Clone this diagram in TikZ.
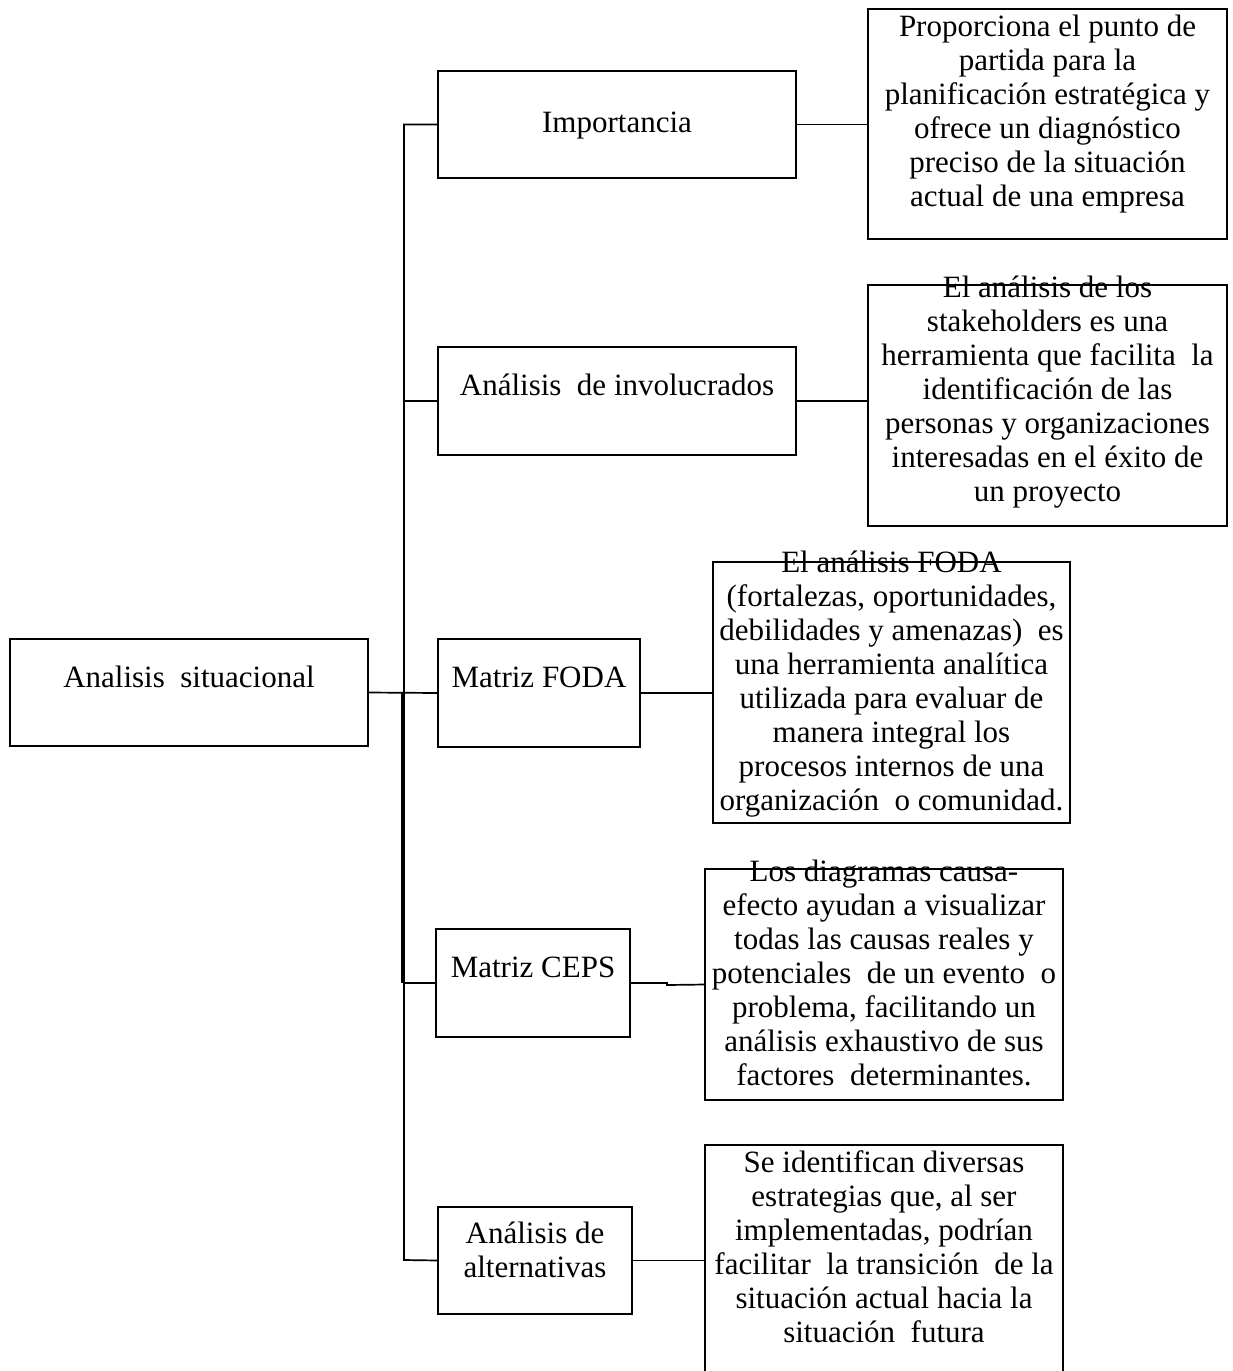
\documentclass[tikz,border=0pt]{standalone}
\usepackage{fontspec}
\setmainfont{Liberation Serif}
\begin{document}
\begin{tikzpicture}[x=0.5pt,y=-0.5pt,
  box/.style={draw, line width=0.85pt, inner sep=0pt, outer sep=0pt},
  wire/.style={line width=0.85pt},
  trunk/.style={line width=2pt},
  txt/.style={inner sep=0pt, outer sep=0pt, anchor=base, font=\fontsize{15.5}{17}\selectfont}]
\clip (0,0) rectangle (1232,1371);

% boxes
\node[box, minimum width=179pt, minimum height=53.5pt] (sit) at (189,692.5) {};
\node[box, minimum width=179pt, minimum height=53.5pt] (imp) at (617,124.5) {};
\node[box, minimum width=179.5pt, minimum height=115pt] (impD) at (1047.5,124) {};
\node[box, minimum width=179pt, minimum height=54pt] (inv) at (617,401) {};
\node[box, minimum width=179.5pt, minimum height=120.5pt] (invD) at (1047.5,405.5) {};
\node[box, minimum width=101pt, minimum height=54pt] (foda) at (539,693) {};
\node[box, minimum width=178.5pt, minimum height=130.5pt] (fodaD) at (891.5,692.5) {};
\node[box, minimum width=97pt, minimum height=54pt] (ceps) at (533,983) {};
\node[box, minimum width=179pt, minimum height=115.5pt] (cepsD) at (884,984.5) {};
\node[box, minimum width=97pt, minimum height=53.5pt] (alt) at (535,1260.5) {};
\node[box, minimum width=179pt, minimum height=157.5pt] (altD) at (884,1302.5) {};

% trunk of the tree
\coordinate (tTop) at (404,125);
\coordinate (tBot) at (404,1260);
\coordinate (thA) at (402.5,693);
\coordinate (thB) at (402.5,983);
\coordinate (cStep) at (667,983);

\draw[wire] (imp.west) -- (imp.west -| tTop) -- (tBot) -- (alt.west);
\draw[trunk] (thA) -- (thB);
\draw[wire] (sit.east) -- (foda.west);
\draw[wire] (inv.west) -- (inv.west -| tTop);
\draw[wire] (ceps.west) -- (ceps.west -| tTop);

% branches to the descriptions
\draw[wire] (imp.east) -- (impD.west |- imp.east);
\draw[wire] (inv.east) -- (invD.west |- inv.east);
\draw[wire] (foda.east) -- (fodaD.west |- foda.east);
\draw[wire] (ceps.east) -- (cStep) -- ++(0,2) -- (cepsD.west);
\draw[wire] (alt.east) -- (altD.west |- alt.east);

% labels
\node[txt] (sitL) at (189,687) {Analisis~ situacional};
\node[txt] (impL) at (617,132) {Importancia};
\node[txt] (invL) at (617,395) {Análisis~ de involucrados};
\node[txt] (fodaL) at (539,687) {Matriz FODA};
\node[txt] (cepsL) at (533,977) {Matriz CEPS};
\node[txt] (altL) at (535,1243) {\begin{tabular}[t]{@{}c@{}}Análisis de\\alternativas\end{tabular}};

% descriptions
\node[txt] (impT) at (1047.5,36) {\begin{tabular}[t]{@{}c@{}}Proporciona el punto de\\partida para la\\planificación estratégica y\\ofrece un diagnóstico\\preciso de la situación\\actual de una empresa\end{tabular}};
\node[txt] (invT) at (1047.5,297) {\begin{tabular}[t]{@{}c@{}}El análisis de los\\stakeholders es una\\herramienta que facilita~ la\\identificación de las\\personas y organizaciones\\interesadas en el éxito de\\un proyecto\end{tabular}};
\node[txt] (fodaT) at (891.5,572) {\begin{tabular}[t]{@{}c@{}}El análisis FODA\\(fortalezas, oportunidades,\\debilidades y amenazas)~ es\\una herramienta analítica\\utilizada para evaluar de\\manera integral los\\procesos internos de una\\organización~ o comunidad.\end{tabular}};
\node[txt] (cepsT) at (884,881) {\begin{tabular}[t]{@{}c@{}}Los diagramas causa-\\efecto ayudan a visualizar\\todas las causas reales y\\potenciales~ de un evento~ o\\problema, facilitando un\\análisis exhaustivo de sus\\factores~ determinantes.\end{tabular}};
\node[txt] (altT) at (884,1172) {\begin{tabular}[t]{@{}c@{}}Se identifican diversas\\estrategias que, al ser\\implementadas, podrían\\facilitar~ la transición~ de la\\situación actual hacia la\\situación~ futura\end{tabular}};
\end{tikzpicture}
\end{document}
